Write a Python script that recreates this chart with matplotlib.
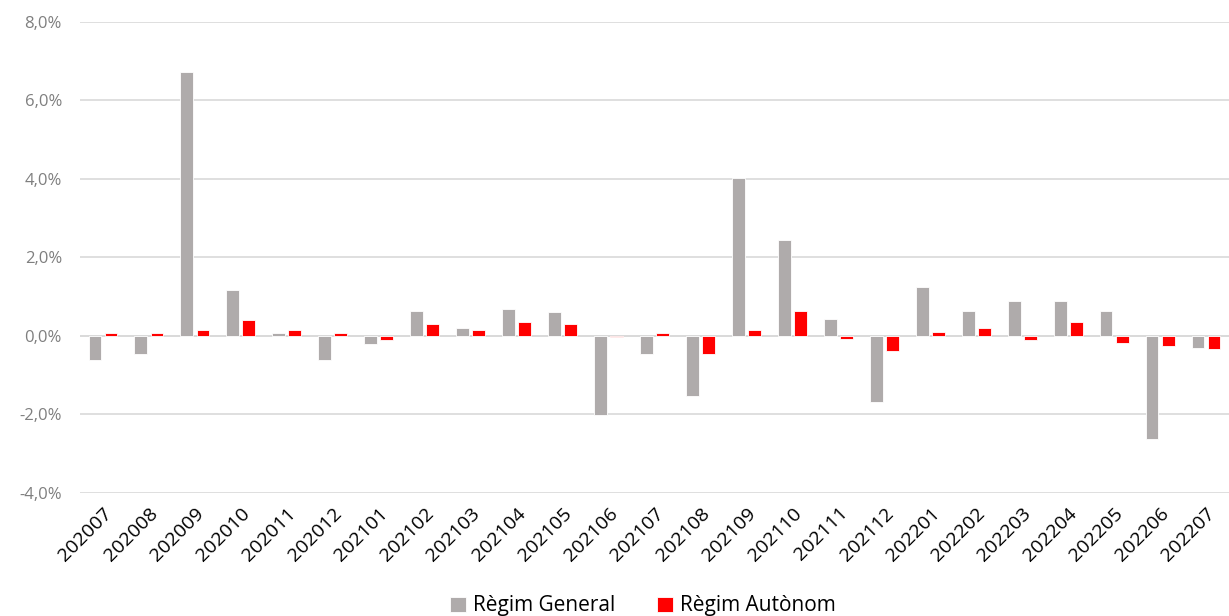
import numpy as np
import matplotlib.pyplot as plt
from matplotlib.ticker import FuncFormatter

plt.rcParams['font.family'] = ['Open Sans', 'DejaVu Sans']

periodes = ['202007', '202008', '202009', '202010', '202011', '202012',
            '202101', '202102', '202103', '202104', '202105', '202106',
            '202107', '202108', '202109', '202110', '202111', '202112',
            '202201', '202202', '202203', '202204', '202205', '202206',
            '202207']
regim_general = [-0.61, -0.46, 6.72, 1.17, 0.07, -0.61, -0.21, 0.64, 0.20,
                 0.68, 0.60, -2.01, -0.46, -1.52, 4.02, 2.45, 0.43, -1.68,
                 1.25, 0.64, 0.88, 0.88, 0.64, -2.62, -0.30]
regim_autonom = [0.07, 0.07, 0.15, 0.40, 0.15, 0.07, -0.10, 0.31, 0.15,
                 0.36, 0.31, -0.02, 0.07, -0.46, 0.15, 0.64, -0.07, -0.37,
                 0.11, 0.20, -0.10, 0.36, -0.17, -0.25, -0.33]

fig = plt.figure(figsize=(12.29, 6.16), dpi=100)
ax = fig.add_axes([0.0651, 0.1997, 0.9349, 0.7646])

x = np.arange(len(periodes))
w = 0.28
ax.bar(x - 0.175, regim_general, w, color='#AFABAB', edgecolor='white',
       linewidth=0.6, label='Règim General', zorder=3)
ax.bar(x + 0.175, regim_autonom, w, color='#FF0000', edgecolor='white',
       linewidth=0.6, label='Règim Autònom', zorder=3)

ax.set_xlim(-0.5, len(periodes) - 0.5)
ax.set_ylim(-4, 8)
ax.set_yticks(np.arange(-4, 8.1, 2))
ax.yaxis.set_major_formatter(FuncFormatter(lambda v, p: f'{v:.1f}%'.replace('.', ',')))
ax.grid(axis='y', color='#D9D9D9', linewidth=1.2, zorder=0)
ax.axhline(0, color='#D9D9D9', linewidth=1.2, zorder=2)
for s in ax.spines.values():
    s.set_visible(False)
ax.tick_params(axis='both', length=0)
ax.tick_params(axis='y', labelcolor='#7F7F7F', labelsize=12, pad=13)

ax.set_xticks(x)
ax.set_xticklabels(periodes, rotation=45, ha='right', rotation_mode='anchor',
                   fontsize=14, color='black')
ax.tick_params(axis='x', pad=8)

ax.legend(loc='lower center', bbox_to_anchor=(0.49, -0.293), ncol=2,
          frameon=False, fontsize=15, handlelength=0.75, handleheight=0.75,
          columnspacing=2.0, handletextpad=0.35, borderpad=0.2)

fig.savefig('out.png', dpi=100)
